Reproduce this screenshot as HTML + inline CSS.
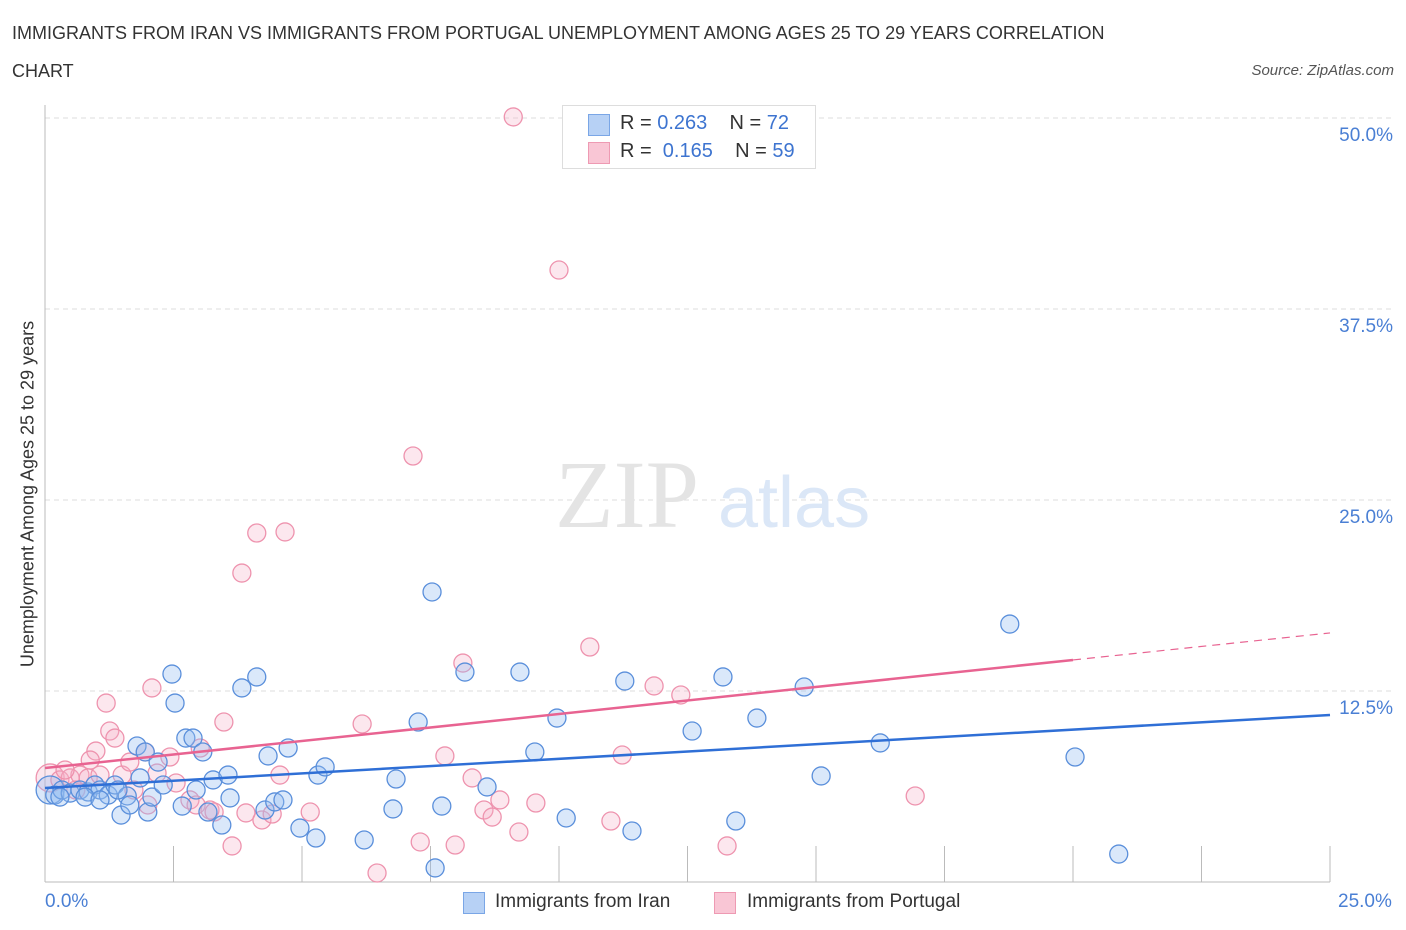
<!DOCTYPE html>
<html><head><meta charset="utf-8"><style>
body{margin:0;background:#fff;font-family:"Liberation Sans",sans-serif;}
#wrap{position:relative;width:1406px;height:930px;overflow:hidden;}
.t{position:absolute;white-space:nowrap;}
</style></head><body>
<div id="wrap">
<div class="t" style="left:12px;top:14px;font-size:18px;color:#333;line-height:38px;width:1150px;white-space:normal">IMMIGRANTS FROM IRAN VS IMMIGRANTS FROM PORTUGAL UNEMPLOYMENT AMONG AGES 25 TO 29 YEARS CORRELATION CHART</div>
<div class="t" style="right:12px;top:62px;font-size:15px;color:#555;font-style:italic">Source: ZipAtlas.com</div>
<svg id="svg" width="1406" height="930" style="position:absolute;left:0;top:0"></svg>
</div>
<script>
const blueX=[0.10,0.19,0.33,0.49,0.68,0.84,0.97,1.07,1.23,1.36,1.48,1.60,1.65,1.79,1.85,1.95,2.00,2.08,2.20,2.30,2.47,2.53,2.67,2.74,2.88,2.94,3.07,3.17,3.27,3.44,3.56,3.60,3.83,4.12,4.28,4.34,4.47,4.63,4.73,4.96,5.31,5.27,5.45,6.21,6.77,6.83,7.26,7.53,7.59,7.72,8.17,8.60,9.24,9.53,9.96,10.14,11.28,11.42,12.59,13.19,13.44,13.85,14.77,15.10,16.25,18.77,20.04,20.89,0.78,0.29,1.42,1.07];
const blueY=[6.02,5.69,6.02,5.82,6.02,5.89,6.35,6.02,5.69,6.35,4.38,5.63,5.04,8.90,6.81,8.51,4.58,5.56,7.85,6.35,13.61,11.71,4.97,9.42,9.42,6.02,8.51,4.58,6.68,3.73,7.00,5.50,12.70,13.42,4.71,8.25,5.24,5.37,8.77,3.53,7.00,2.88,7.53,2.75,4.78,6.74,10.47,18.98,0.92,4.97,13.74,6.22,13.74,8.51,10.73,4.19,13.15,3.34,9.88,13.42,3.99,10.73,12.76,6.94,9.10,16.88,8.18,1.83,5.56,5.56,6.02,5.37];
const pinkX=[0.10,0.29,0.49,0.68,0.84,1.07,0.99,1.26,1.19,1.36,1.50,1.65,1.73,1.95,2.00,2.08,2.18,2.43,2.55,2.82,2.94,3.02,3.21,3.29,3.48,3.64,3.83,3.91,4.12,4.22,4.42,4.57,4.67,5.16,6.17,6.46,7.16,7.30,7.78,7.98,8.13,8.31,8.54,8.70,8.85,9.11,9.22,9.55,10.00,10.60,11.01,11.23,11.85,12.37,13.27,16.93,0.39,0.88,0.60];
const pinkY=[6.81,6.68,6.81,7.00,6.81,7.00,8.57,9.88,11.71,9.42,7.00,7.85,6.02,8.51,5.04,12.70,7.13,8.18,6.48,5.37,5.04,8.77,4.71,4.58,10.47,2.36,20.22,4.52,22.84,4.06,4.45,7.00,22.91,4.58,10.34,0.59,27.88,2.62,8.25,2.42,14.33,6.81,4.71,4.25,5.37,50.07,3.27,5.17,40.05,15.38,3.99,8.31,12.83,12.24,2.36,5.63,7.33,7.98,6.02];
const blueTrend=[6.15,10.93];
const pinkTrend=[7.46,16.3];
const yTicks=[12.5,25,37.5,50];
const yTickLabels=["12.5%","25.0%","37.5%","50.0%"];
const xTicks=[2.5,5,7.5,10,12.5,15,17.5,20,22.5,25];

const X0=45,X1=1330,Y0=882,Y1=118;
const sx=v=>X0+(X1-X0)*v/25, sy=v=>Y0-(Y0-Y1)*v/50;
const svg=document.getElementById('svg');
const NS='http://www.w3.org/2000/svg';
function mk(tag,at,parent){const e=document.createElementNS(NS,tag);for(const k in at)e.setAttribute(k,at[k]);(parent||svg).appendChild(e);return e;}

yTicks.forEach((v,i)=>{
 const g=mk('line',{x1:X0,x2:X1+65,y1:sy(v),y2:sy(v),stroke:'#ddd','stroke-dasharray':'5,4'});
 
 
 const t=mk('text',{x:1393,y:sy(v)+23,'text-anchor':'end','font-size':19,fill:'#4a7fd4','font-family':'Liberation Sans'});
 t.textContent=yTickLabels[i];
 
 
});
const ax=mk('line',{x1:X0,x2:X0,y1:105,y2:Y0,stroke:'#bbb'});


const bx=mk('line',{x1:X0,x2:X1,y1:Y0,y2:Y0,stroke:'#bbb'});


xTicks.forEach(v=>{
 const l=mk('line',{x1:sx(v),x2:sx(v),y1:846,y2:Y0,stroke:'#bbb'});
 
 
});
const w1=mk('text',{x:555,y:527,'font-size':96,fill:'#e4e4e4','font-family':'Liberation Serif'});w1.textContent='ZIP';


const w2=mk('text',{x:718,y:527,'font-size':72,fill:'#dbe7f7','font-family':'Liberation Sans'});w2.textContent='atlas';



function dots(xs,ys,fill,stroke,name){
 xs.forEach((v,i)=>{
  const c=mk('circle',{cx:sx(v),cy:sy(ys[i]),r:i===0?14:9,fill:fill,stroke:stroke,'stroke-width':1.3});
  
  
 });
}
dots(pinkX,pinkY,'rgba(246,176,198,0.3)','#ee93ae','portugal-point');
dots(blueX,blueY,'rgba(150,190,240,0.35)','#5a8fdb','iran-point');

const bl=mk('line',{x1:sx(0),y1:sy(blueTrend[0]),x2:sx(25),y2:sy(blueTrend[1]),stroke:'#2f6fd6','stroke-width':2.5});


const pm=pinkTrend[0]+(pinkTrend[1]-pinkTrend[0])*20/25;
const pl=mk('line',{x1:sx(0),y1:sy(pinkTrend[0]),x2:sx(20),y2:sy(pm),stroke:'#e86391','stroke-width':2.5});


const pd=mk('line',{x1:sx(20),y1:sy(pm),x2:sx(25),y2:sy(pinkTrend[1]),stroke:'#e86391','stroke-width':1.2,'stroke-dasharray':'8,6'});


</script>
<div class="t" style="left:28px;top:494px;font-size:18px;color:#333;transform:translate(-50%,-50%) rotate(-90deg)">Unemployment Among Ages 25 to 29 years</div>
<div class="t" style="left:45px;top:891px;font-size:19px;color:#4a7fd4">0.0%</div>
<div class="t" style="left:1338px;top:891px;font-size:19px;color:#4a7fd4">25.0%</div>
<div style="position:absolute;left:562px;top:105px;width:252px;height:62px;border:1px solid #ddd;background:#fff;font-size:20px;color:#333">
 <div style="position:absolute;left:25px;top:8px;width:20px;height:20px;background:#b7d1f5;border:1px solid #7aa6e6"></div>
 <div class="t" style="left:57px;top:6px">R = <span style="color:#3d74d0">0.263</span>&nbsp;&nbsp;&nbsp; N = <span style="color:#3d74d0">72</span></div>
 <div style="position:absolute;left:25px;top:36px;width:20px;height:20px;background:#f9c6d5;border:1px solid #ee9ab3"></div>
 <div class="t" style="left:57px;top:34px">R = &nbsp;<span style="color:#3d74d0">0.165</span>&nbsp;&nbsp;&nbsp; N = <span style="color:#3d74d0">59</span></div>
</div>
<div style="position:absolute;left:463px;top:891px;font-size:19px;color:#333">
 <div style="position:absolute;left:0;top:1px;width:20px;height:20px;background:#b7d1f5;border:1px solid #7aa6e6"></div>
 <div class="t" style="left:32px;top:0">Immigrants from Iran</div></div>
<div style="position:absolute;left:714px;top:891px;font-size:19px;color:#333">
 <div style="position:absolute;left:0;top:1px;width:20px;height:20px;background:#f9c6d5;border:1px solid #ee9ab3"></div>
 <div class="t" style="left:33px;top:0">Immigrants from Portugal</div></div>
</body></html>
